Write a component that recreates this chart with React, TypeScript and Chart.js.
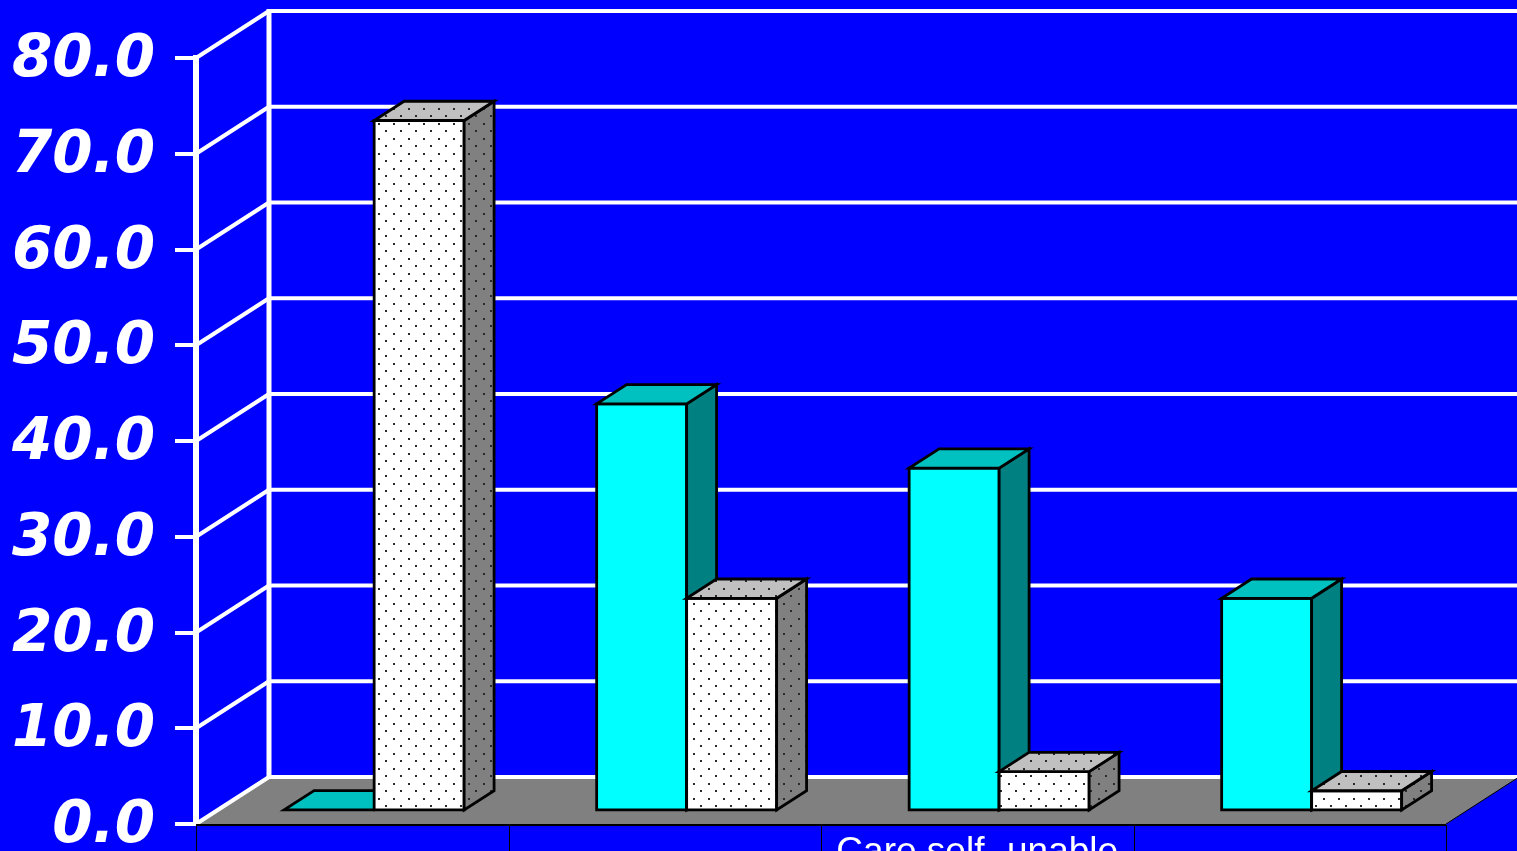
import React, { useEffect, useRef } from 'react';
import { Chart, registerables } from 'chart.js';

Chart.register(...registerables);

// ---- data ----
const categories: string[] = ['', '', 'Care self- unable', ''];
const seriesCyan: number[] = [0, 42.4, 35.7, 22.1];
const seriesDotted: number[] = [72.0, 22.1, 4.0, 2.0];
const yMin = 0;
const yMax = 80;
const yStep = 10;
const tickLabel = (v: number) => v.toFixed(1);

// ---- look ----
const W = 1517;
const H = 851;
const BLUE = '#0000FF';
const DEPTH = { x: 73, y: -47 };
const BAR_FRONT = 0.3;
const BAR_BACK = 0.71;

function makePattern(ctx: CanvasRenderingContext2D, bg: string) {
  const c = document.createElement('canvas');
  c.width = 15;
  c.height = 15;
  const p = c.getContext('2d')!;
  p.fillStyle = bg;
  p.fillRect(0, 0, 15, 15);
  p.fillStyle = '#2a2a2a';
  p.fillRect(3, 3, 2, 2);
  p.fillRect(10, 10, 2, 2);
  return ctx.createPattern(c, 'repeat')!;
}

function poly(ctx: CanvasRenderingContext2D, pts: number[][], fill: any, stroke = true) {
  ctx.beginPath();
  ctx.moveTo(pts[0][0], pts[0][1]);
  for (let i = 1; i < pts.length; i++) ctx.lineTo(pts[i][0], pts[i][1]);
  ctx.closePath();
  ctx.fillStyle = fill;
  ctx.fill();
  if (stroke) ctx.stroke();
}

function box(
  ctx: CanvasRenderingContext2D,
  x0: number, x1: number, yTop: number, yBase: number,
  dx: number, dy: number, front: any, top: any, side: any
) {
  ctx.save();
  ctx.lineWidth = 2.8;
  ctx.strokeStyle = '#000';
  ctx.lineJoin = 'miter';
  const h = yBase - yTop;
  if (h > 0.5) {
    poly(ctx, [[x0, yTop], [x1, yTop], [x1, yBase], [x0, yBase]], front);
    poly(ctx, [[x1, yTop], [x1 + dx, yTop + dy], [x1 + dx, yBase + dy], [x1, yBase]], side);
  }
  poly(ctx, [[x0, yTop], [x1, yTop], [x1 + dx, yTop + dy], [x0 + dx, yTop + dy]], top);
  ctx.restore();
}

const threeD = {
  id: 'threeD',
  beforeDraw(chart: any) {
    const ctx = chart.ctx;
    ctx.save();
    ctx.fillStyle = BLUE;
    ctx.fillRect(0, 0, chart.width, chart.height);
    ctx.restore();
  },
  beforeDatasetsDraw(chart: any) {
    const { ctx, chartArea: a, scales } = chart;
    const xs = scales.x;
    const ys = scales.y;
    const L = a.left, R = a.right, B = a.bottom;
    ctx.save();
    // floor
    poly(ctx, [[L, B], [R, B], [R + DEPTH.x, B + DEPTH.y], [L + DEPTH.x, B + DEPTH.y]], '#808080', false);
    // walls
    ctx.strokeStyle = '#FFFFFF';
    ctx.lineWidth = 4;
    ctx.lineCap = 'butt';
    ys.ticks.forEach((t: any) => {
      const py = ys.getPixelForValue(t.value);
      ctx.beginPath();
      ctx.moveTo(L + DEPTH.x, py + DEPTH.y);
      ctx.lineTo(chart.width + 10, py + DEPTH.y);
      ctx.stroke();
      ctx.beginPath();
      ctx.moveTo(L, py);
      ctx.lineTo(L + DEPTH.x, py + DEPTH.y);
      ctx.stroke();
    });
    ctx.lineWidth = 5;
    ctx.beginPath();
    ctx.moveTo(L + DEPTH.x, ys.getPixelForValue(yMax) + DEPTH.y - 2);
    ctx.lineTo(L + DEPTH.x, ys.getPixelForValue(yMin) + DEPTH.y);
    ctx.stroke();
    // floor edges
    ctx.strokeStyle = '#000';
    ctx.lineWidth = 2;
    ctx.beginPath();
    ctx.moveTo(L, B + 1);
    ctx.lineTo(R, B + 1);
    ctx.stroke();
    ctx.lineWidth = 1;
    ctx.beginPath();
    ctx.moveTo(R, B);
    ctx.lineTo(R + DEPTH.x, B + DEPTH.y);
    ctx.stroke();
    // category separators below floor
    const half = (xs.getPixelForValue(1) - xs.getPixelForValue(0)) / 2;
    ctx.lineWidth = 1;
    for (let i = 0; i <= categories.length; i++) {
      const px = Math.round(xs.getPixelForValue(i) - half) + 0.5;
      ctx.beginPath();
      ctx.moveTo(px, B + 1);
      ctx.lineTo(px, chart.height);
      ctx.stroke();
    }
    ctx.restore();
  },
  afterDatasetsDraw(chart: any) {
    const ctx = chart.ctx;
    const ys = chart.scales.y;
    const patW = makePattern(ctx, '#FFFFFF');
    const patT = makePattern(ctx, '#C0C0C0');
    const patS = makePattern(ctx, '#808080');
    const styles = [
      { front: '#00FFFF', top: '#00C0C0', side: '#008080' },
      { front: patW, top: patT, side: patS },
    ];
    const fx = DEPTH.x * BAR_FRONT;
    const fy = DEPTH.y * BAR_FRONT;
    const dx = DEPTH.x * (BAR_BACK - BAR_FRONT);
    const dy = DEPTH.y * (BAR_BACK - BAR_FRONT);
    const base = ys.getPixelForValue(yMin);
    for (let i = 0; i < categories.length; i++) {
      chart.data.datasets.forEach((ds: any, j: number) => {
        const el = chart.getDatasetMeta(j).data[i];
        const p = el.getProps(['x', 'y', 'width'], true);
        const x0 = p.x - p.width / 2 + fx;
        const x1 = p.x + p.width / 2 + fx;
        box(ctx, x0, x1, p.y + fy, base + fy, dx, dy, styles[j].front, styles[j].top, styles[j].side);
      });
    }
  },
};

export default function App() {
  const ref = useRef<HTMLCanvasElement>(null);
  useEffect(() => {
    document.body.style.margin = '0';
    const chart = new Chart(ref.current!, {
      type: 'bar',
      data: {
        labels: categories,
        datasets: [
          { label: 'Series 1', data: seriesCyan, backgroundColor: 'rgba(0,0,0,0)', borderWidth: 0 },
          { label: 'Series 2', data: seriesDotted, backgroundColor: 'rgba(0,0,0,0)', borderWidth: 0 },
        ],
      },
      options: {
        responsive: false,
        animation: false,
        devicePixelRatio: 1,
        layout: { padding: { left: 0, right: 71, top: 58, bottom: 0 } },
        plugins: { legend: { display: false }, tooltip: { enabled: false } },
        datasets: { bar: { categoryPercentage: 0.576, barPercentage: 1.0 } },
        scales: {
          x: {
            grid: { display: false, drawTicks: false },
            border: { display: false },
            ticks: {
              color: '#FFFFFF',
              font: { family: 'Liberation Sans', size: 37 },
              padding: 7,
              maxRotation: 0,
              minRotation: 0,
              autoSkip: false,
            },
            afterFit: (s: any) => { s.height = 27; s.paddingLeft = 0; s.paddingRight = 0; },
          },
          y: {
            min: yMin,
            max: yMax,
            ticks: {
              stepSize: yStep,
              color: '#FFFFFF',
              font: { family: 'DejaVu Sans', size: 58, weight: 'bold', style: 'italic' },
              padding: 20,
              labelOffset: 3,
              callback: (v: any) => tickLabel(Number(v)),
            },
            grid: { drawOnChartArea: false, drawTicks: true, tickLength: 21, color: '#FFFFFF', lineWidth: 4 },
            border: { display: true, color: '#FFFFFF', width: 6 },
            afterFit: (s: any) => { s.width = 196; s.paddingTop = 0; s.paddingBottom = 0; },
          },
        },
      },
      plugins: [threeD],
    } as any);
    return () => chart.destroy();
  }, []);
  return (
    <div style={{ position: 'fixed', left: 0, top: 0, width: W, height: H, background: BLUE, overflow: 'hidden' }}>
      <canvas ref={ref} width={W} height={H} style={{ display: 'block', width: W, height: H }} />
    </div>
  );
}
